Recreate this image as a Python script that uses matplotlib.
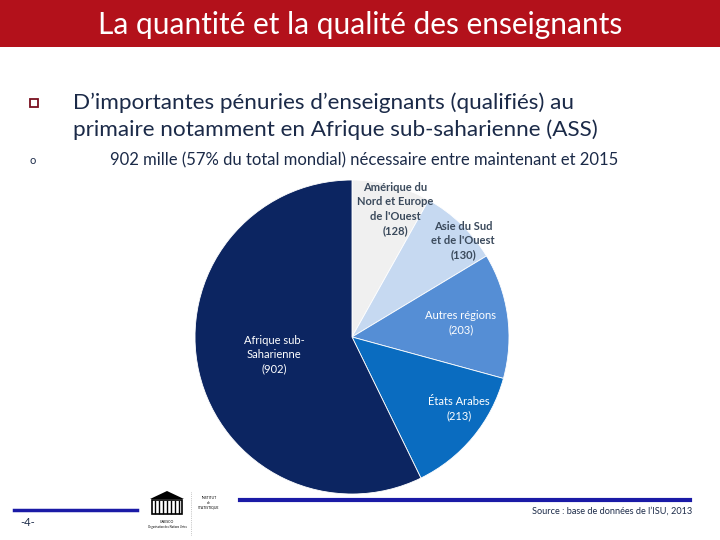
import matplotlib
matplotlib.use("Agg")
import matplotlib.pyplot as plt
from matplotlib.patches import Rectangle, Polygon
from matplotlib.lines import Line2D

plt.rcParams['font.family'] = ['Lato', 'DejaVu Sans']

# Data
regions = ["Amérique du\nNord et Europe\nde l'Ouest", "Asie du Sud\net de l'Ouest",
           "Autres régions", "États Arabes", "Afrique sub-\nSaharienne"]
values = [128, 130, 203, 213, 902]
colors = ["#f0f0f0", "#c6d9f1", "#558ed5", "#0a6cc0", "#0c2561"]
label_colors = ["#3b4a5c", "#3b4a5c", "white", "white", "white"]
label_weights = ["bold", "bold", "normal", "normal", "normal"]
# label positions in pixel coordinates of the 720x540 slide
label_pos = [(395, 209), (463, 241), (461, 323), (459, 409), (274, 355)]

title = "La quantité et la qualité des enseignants"
bullet1 = "D’importantes pénuries d’enseignants (qualifiés) au\nprimaire notamment en Afrique sub-saharienne (ASS)"
bullet2 = "902 mille (57% du total mondial) nécessaire entre maintenant et 2015"
source = "Source : base de données de l’ISU, 2013"

W, H = 720, 540
fig = plt.figure(figsize=(7.2, 5.4), dpi=100)
fig.patch.set_facecolor("white")

def px(x, y):
    return x / W, 1 - y / H

# Title bar
fig.patches.append(Rectangle(px(0, 47), 1, 47 / H, transform=fig.transFigure,
                             facecolor="#b3111b", edgecolor="none"))
fig.text(*px(360, 25), title, color="white", fontsize=21.5, fontweight="normal",
         ha="center", va="center")

# Bullet square
fig.patches.append(Rectangle(px(30, 107), 8 / W, 8 / H, transform=fig.transFigure,
                             facecolor="white", edgecolor="#7a1020", linewidth=1.3))
fig.text(*px(73, 116), bullet1, color="#1b2a48", fontsize=16.2, ha="left", va="center",
         linespacing=1.42)
fig.text(*px(33, 161), "o", color="#1b2a48", fontsize=8, ha="center", va="center")
fig.text(*px(110, 160), bullet2, color="#1b2a48", fontsize=12, ha="left", va="center")

# Pie
cx, cy, r = 352, 337, 157
ax = fig.add_axes([(cx - r) / W, (H - cy - r) / H, 2 * r / W, 2 * r / H])
ax.pie(values, colors=colors, startangle=90, counterclock=False,
       wedgeprops=dict(edgecolor="white", linewidth=0.6))
ax.set_xlim(-1, 1)
ax.set_ylim(-1, 1)
ax.set_aspect("auto")
ax.axis("off")

for name, v, (lx, ly), c, w in zip(regions, values, label_pos, label_colors, label_weights):
    fig.text(*px(lx, ly), f"{name}\n({v})", color=c, fontsize=8, fontweight=w,
             ha="center", va="center", linespacing=1.35)

# Footer lines
fig.lines.append(Line2D([14 / W, 137 / W], [1 - 510 / H] * 2, transform=fig.transFigure,
                        color="#1a1aa6", linewidth=2.5))
fig.lines.append(Line2D([240 / W, 690 / W], [1 - 500 / H] * 2, transform=fig.transFigure,
                        color="#1a1aa6", linewidth=3))
fig.text(*px(28, 522), "-4-", color="#1b2a48", fontsize=8, ha="center", va="center")
fig.text(*px(692, 511), source, color="#1b2a48", fontsize=6.6, ha="right", va="center")

# Simplified logo
fig.patches.append(Polygon([px(150, 499), px(167, 491), px(184, 499)], closed=True,
                           transform=fig.transFigure, facecolor="black", edgecolor="none"))
fig.patches.append(Rectangle(px(152, 514), 30 / W, 14 / H, transform=fig.transFigure,
                             facecolor="white", edgecolor="black", linewidth=1.2))
for xx in range(155, 182, 4):
    fig.lines.append(Line2D([xx / W] * 2, [1 - 513 / H, 1 - 501 / H], transform=fig.transFigure,
                            color="black", linewidth=1.0))
fig.text(*px(167, 522), "UNESCO", fontsize=2.5, ha="center", va="center", color="black")
fig.text(*px(167, 527), "Organisation des Nations Unies", fontsize=2, ha="center", va="center", color="black")
fig.lines.append(Line2D([191 / W] * 2, [1 - 492 / H, 1 - 535 / H], transform=fig.transFigure,
                        color="#999999", linewidth=0.5, linestyle=":"))
fig.text(*px(209, 503), "INSTITUT\nde\nSTATISTIQUE", fontsize=2.5, ha="center", va="center",
         color="black", linespacing=1.2)

fig.savefig("out.png", dpi=100)
